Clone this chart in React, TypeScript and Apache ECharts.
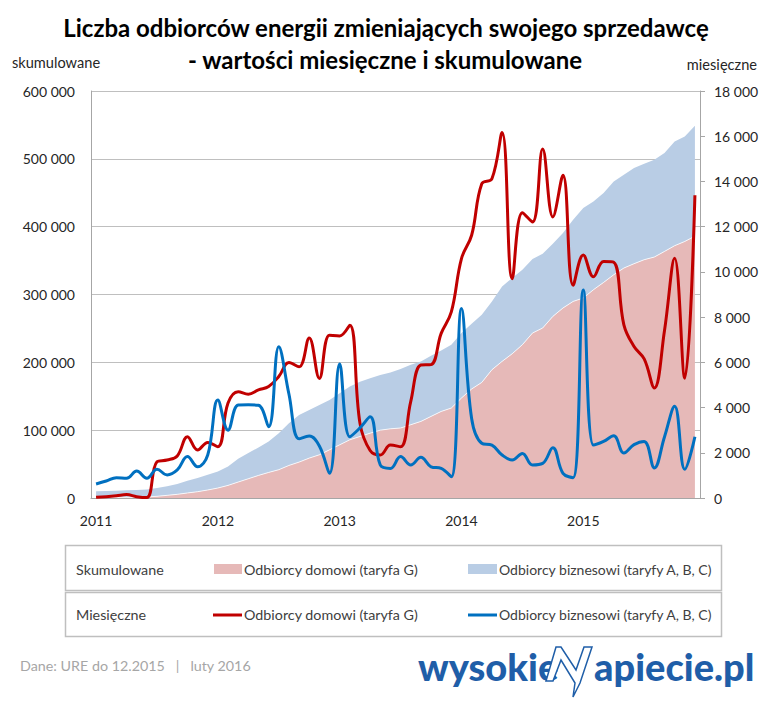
import React, { useEffect, useRef } from "react";
import * as echarts from "echarts";

const years = ["2011", "2012", "2013", "2014", "2015"];
const monthNums = ["01", "02", "03", "04", "05", "06", "07", "08", "09", "10", "11", "12"];
const categories = years.flatMap((y) => monthNums.map((m) => `${y}-${m}`));

// cumulative (left axis)
const domesticCumulative = [
  500, 500, 1000, 1000, 1000, 1500, 2500, 3900, 5400, 7400, 9300, 11800,
  14700, 18600, 23500, 28400, 33300, 37700, 41700, 48000, 52900, 58800, 63700, 71000,
  78400, 85800, 90700, 95600, 100000, 102000, 103200, 108000, 112900, 120300, 127600, 132600,
  147400, 160700, 170400, 189100, 201400, 212700, 226000, 243200, 250600, 267700, 280100, 289800,
  294800, 307000, 317800, 329100, 339000, 345400, 351300, 355200, 363500, 371900, 378200, 386000,
];
const businessCumulative = [
  9300, 9800, 9800, 10300, 10800, 11200, 12200, 13300, 15200, 18100, 20100, 22500,
  24500, 28000, 34300, 37800, 41200, 45600, 53900, 62300, 69600, 71100, 73500, 73600,
  76000, 78400, 80800, 80800, 81500, 83100, 86900, 88500, 88500, 89400, 90000, 93400,
  95800, 96200, 99800, 100700, 110500, 111600, 110500, 109100, 109500, 107100, 110500, 120400,
  132700, 130200, 131800, 137600, 137500, 141000, 141400, 143400, 145000, 153700, 154800, 162800,
];
// monthly (right axis)
const domesticMonthly = [
  30, 60, 100, 150, 60, 20, 1600, 1680, 1860, 2710, 2120, 2460,
  2270, 4200, 4700, 4590, 4780, 4930, 5370, 5990, 5800, 7080, 5290, 7200,
  7170, 7640, 3300, 2100, 1900, 2340, 2270, 4260, 5880, 5900, 7280, 8230,
  10590, 11620, 13900, 14120, 16160, 9700, 12620, 12210, 15430, 12430, 14270, 9410,
  10750, 9780, 10460, 10430, 7660, 6700, 6150, 4870, 7400, 10600, 5300, 13390,
];
const businessMonthly = [
  620, 750, 900, 870, 1190, 870, 1270, 1020, 1240, 1830, 1380, 1900,
  4330, 3000, 4110, 4120, 4100, 3150, 6690, 4600, 2620, 2740, 2300, 1090,
  5930, 2710, 3100, 3590, 1460, 1310, 1830, 1460, 1800, 1380, 1310, 940,
  8380, 3520, 2420, 2340, 1900, 1680, 1970, 1460, 1530, 2220, 1090, 900,
  9200, 2340, 2500, 2750, 1990, 2360, 2500, 1330, 2700, 4060, 1270, 2710,
];

const leftTicks = { min: 0, max: 600000, interval: 100000 };
const rightTicks = { min: 0, max: 18000, interval: 2000 };

const seriesNames = {
  domestic: "Odbiorcy domowi (taryfa G)",
  business: "Odbiorcy biznesowi (taryfy A, B, C)",
};

const FONT = "Lato, 'Open Sans', sans-serif";
const fmt = (v: number) => String(v).replace(/\B(?=(\d{3})+(?!\d))/g, " ");

export default function App() {
  const ref = useRef<HTMLDivElement>(null);
  useEffect(() => {
    if (!ref.current) return;
    const chart = echarts.init(ref.current, undefined, { renderer: "svg" });
    const txt = (x: number, y: number, text: string, extra: any = {}) => ({
      type: "text",
      x,
      y,
      style: {
        text,
        fontFamily: FONT,
        fontSize: 14.3,
        fill: "#404040",
        verticalAlign: "middle",
        ...extra,
      },
    });
    chart.setOption({
      animation: false,
      backgroundColor: "#ffffff",
      grid: { left: 91, top: 91, width: 609, height: 407, containLabel: false },
      xAxis: {
        type: "category",
        data: categories,
        boundaryGap: true,
        axisLine: { show: true, lineStyle: { color: "#A6A6A6", width: 1 } },
        axisTick: {
          show: true,
          inside: true,
          length: 5,
          interval: (i: number) => i % 12 === 0,
          lineStyle: { color: "#A6A6A6" },
        },
        axisLabel: {
          interval: (i: number) => i % 12 === 0,
          formatter: (v: string) => v.slice(0, 4),
          fontFamily: FONT,
          fontSize: 14,
          color: "#262626",
          margin: 15,
        },
        splitLine: { show: false },
      },
      yAxis: [
        {
          type: "value",
          ...leftTicks,
          position: "left",
          axisLine: { show: true, lineStyle: { color: "#A6A6A6" } },
          axisTick: { show: false },
          axisLabel: {
            formatter: fmt,
            fontFamily: FONT,
            fontSize: 14,
            color: "#262626",
            margin: 16,
          },
          splitLine: { show: true, lineStyle: { color: "#BFBFBF", width: 1 } },
        },
        {
          type: "value",
          ...rightTicks,
          position: "right",
          axisLine: { show: true, lineStyle: { color: "#A6A6A6" } },
          axisTick: { show: true, inside: false, length: 5, lineStyle: { color: "#A6A6A6" } },
          axisLabel: {
            formatter: fmt,
            fontFamily: FONT,
            fontSize: 14,
            color: "#262626",
            margin: 14,
          },
          splitLine: { show: false },
        },
      ],
      series: [
        {
          name: seriesNames.domestic + " (skumulowane)",
          type: "line",
          stack: "cum",
          yAxisIndex: 0,
          data: domesticCumulative,
          symbol: "none",
          lineStyle: { width: 1, color: "rgba(255,255,255,0.8)" },
          areaStyle: { color: "#E6B9B8", opacity: 1 },
          z: 1,
        },
        {
          name: seriesNames.business + " (skumulowane)",
          type: "line",
          stack: "cum",
          yAxisIndex: 0,
          data: businessCumulative,
          symbol: "none",
          lineStyle: { width: 0, color: "#B9CDE5" },
          areaStyle: { color: "#B9CDE5", opacity: 1 },
          z: 1,
        },
        {
          name: seriesNames.domestic,
          type: "line",
          yAxisIndex: 1,
          data: domesticMonthly,
          symbol: "none",
          smooth: 0.4,
          lineStyle: { width: 3, color: "#C00000" },
          itemStyle: { color: "#C00000" },
          z: 3,
        },
        {
          name: seriesNames.business,
          type: "line",
          yAxisIndex: 1,
          data: businessMonthly,
          symbol: "none",
          smooth: 0.4,
          lineStyle: { width: 3, color: "#0070C0" },
          itemStyle: { color: "#0070C0" },
          z: 4,
        },
      ],
      graphic: [
        txt(386, 27, "Liczba odbiorców energii zmieniających swojego sprzedawcę", {
          fontSize: 24,
          fontWeight: "bold",
          fill: "#000000",
          align: "center",
        }),
        txt(385, 59, "- wartości miesięczne i skumulowane", {
          fontSize: 24,
          fontWeight: "bold",
          fill: "#000000",
          align: "center",
        }),
        txt(12, 62, "skumulowane", { fontSize: 14.6, fill: "#262626" }),
        txt(757, 64, "miesięczne", { fontSize: 14.6, fill: "#262626", align: "right" }),
        // legend boxes
        {
          type: "rect",
          shape: { x: 65.5, y: 545.5, width: 656, height: 45 },
          style: { fill: "#ffffff", stroke: "#BFBFBF", lineWidth: 1.5 },
        },
        {
          type: "rect",
          shape: { x: 65.5, y: 592.5, width: 656, height: 44 },
          style: { fill: "#ffffff", stroke: "#BFBFBF", lineWidth: 1.5 },
        },
        txt(76, 569, "Skumulowane"),
        { type: "rect", shape: { x: 214, y: 564, width: 28, height: 10 }, style: { fill: "#E6B9B8" } },
        txt(244, 569, seriesNames.domestic),
        { type: "rect", shape: { x: 468, y: 564, width: 29, height: 10 }, style: { fill: "#B9CDE5" } },
        txt(499, 569, seriesNames.business, { fontSize: 14 }),
        txt(76, 614, "Miesięczne"),
        { type: "line", shape: { x1: 213, y1: 615, x2: 242, y2: 615 }, style: { stroke: "#C00000", lineWidth: 3 } },
        txt(244, 614, seriesNames.domestic),
        { type: "line", shape: { x1: 468, y1: 615, x2: 497, y2: 615 }, style: { stroke: "#0070C0", lineWidth: 3 } },
        txt(499, 614, seriesNames.business, { fontSize: 14 }),
        // footer
        txt(20, 665, "Dane: URE do 12.2015   |   luty 2016", { fill: "#A6A6A6", fontSize: 14.3 }),
        // logo
        txt(418, 666, "wysokie", { fontSize: 38, fontWeight: 900, fill: "#1F5EA8" }),
        {
          type: "polygon",
          shape: {
            points: [
              [546, 681], [556, 647], [561, 647], [576, 670], [584, 647], [592, 647],
              [580, 683], [573, 697], [575, 683], [561, 660], [553, 681],
            ],
          },
          style: { fill: "#ffffff", stroke: "#1F5EA8", lineWidth: 1.5 },
        },
        txt(594, 666, "apiecie.pl", { fontSize: 38, fontWeight: 900, fill: "#1F5EA8" }),
      ],
    });
    return () => chart.dispose();
  }, []);
  return (
    <div
      ref={ref}
      style={{ position: "fixed", left: 0, top: 0, width: 768, height: 702, background: "#fff" }}
    />
  );
}
